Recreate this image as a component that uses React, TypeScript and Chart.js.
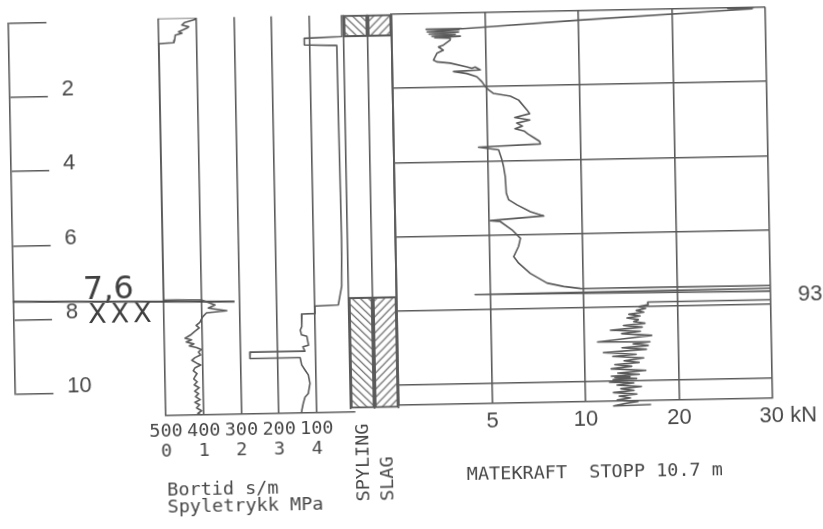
import React, { useEffect, useRef } from 'react';
import { Chart, registerables } from 'chart.js';

Chart.register(...registerables);

// ---------------- data ----------------
// depth ruler
const rulerDepths = [0, 2, 4, 6, 8, 10];
const markDepth = 7.6;
const markLabel = '7,6';
const markCrosses = 'XXX';
const markLineMPa = [-3.99, 1.88];
const markLineDepth = [7.55, 7.66];

// Spyletrykk (MPa) vs depth (m)
const spyleDepth = [0, 0, 0.05, 0.12, 0.19, 0.24, 0.28, 0.37, 0.41, 0.46, 0.6, 0.66, 0.68, 7.58, 7.6, 7.74, 7.82, 7.9, 7.95, 8.04, 8.1, 8.2, 8.28, 8.35, 8.45, 8.52, 8.58, 8.62, 8.67, 8.72, 8.78, 8.83, 8.88, 8.93, 9.0, 9.08, 9.15, 9.22, 9.3, 9.35, 9.42, 9.5, 9.58, 9.65, 9.72, 9.8, 9.88, 9.96, 10.05, 10.12, 10.2, 10.28, 10.35, 10.42, 10.5, 10.58, 10.65, 10.7];
const spyleMPa = [0, 0.97, 0.97, 0.7, 0.62, 0.8, 0.75, 0.53, 0.62, 0.44, 0.42, 0.4, 0, 0, 1.0, 1.36, 1.18, 1.67, 1.13, 1.04, 1.0, 0.95, 0.85, 0.93, 0.8, 0.72, 0.62, 0.55, 0.72, 0.58, 0.78, 0.66, 0.85, 0.97, 0.9, 0.95, 0.8, 0.72, 0.85, 0.95, 0.8, 0.75, 0.85, 0.8, 0.76, 0.85, 0.77, 0.9, 0.78, 0.88, 0.8, 0.92, 0.78, 0.9, 0.82, 0.95, 0.85, 0.95];

// Bortid (s/m) vs depth (m)
const bortidDepth = [0, 0.58, 0.61, 0.79, 0.82, 3.0, 6.0, 7.3, 7.55, 7.8, 7.82, 8.02, 8.03, 8.37, 8.46, 8.59, 8.63, 8.87, 8.91, 9.03, 9.03, 9.2, 9.2, 9.4, 9.53, 9.67, 9.9, 10.17, 10.27, 10.44, 10.62, 10.7];
const bortidSec = [13, 14, 114, 114, 28, 27, 25, 27, 32, 37, 99, 99, 134, 135, 139, 136, 122, 118, 133, 128, 273, 274, 141, 137, 129, 120, 116, 121, 130, 135, 139, 140];

const panelTickMPa = [0, 1, 2, 3, 4];
const bortidTickLabels = ['500', '400', '300', '200', '100'];
const spyleTickLabels = ['0', '1', '2', '3', '4'];
const panelTitle = ['Bortid s/m', 'Spyletrykk MPa'];

// Spyling / slag
const modeCategories = ['SPYLING', 'SLAG'];
const modeIntervals = [[0, 0.6], [7.6, 10.6]];

// Matekraft (kN) vs depth (m)
const mkDepth = [0, 0.02, 0.04, 0.26, 0.4, 0.43, 0.43, 0.46, 0.5, 0.52, 0.56, 0.58, 0.62, 0.63, 0.66, 0.68, 0.73, 0.86, 0.91, 1.0, 1.08, 1.26, 1.31, 1.35, 1.46, 1.5, 1.47, 1.55, 1.58, 1.64, 1.73, 1.87, 2.0, 2.09, 2.19, 2.27, 2.38, 2.65, 2.75, 2.85, 2.92, 3.0, 3.08, 3.15, 3.22, 3.3, 3.4, 3.5, 3.57, 3.63, 3.71, 3.98, 4.16, 4.43, 4.88, 5.06, 5.2, 5.39, 5.51, 5.61, 5.64, 5.87, 6.1, 6.32, 6.59, 6.77, 7.05, 7.32, 7.42, 7.48, 7.5, 7.55, 7.57, 7.59, 7.66, 7.7, 7.8, 7.88, 7.88];
const mkKN = [28.8, 26.0, 28.6, 10.0, 5.0, 3.76, 1.85, 3.6, 1.9, 3.58, 2.0, 3.4, 2.15, 3.67, 2.3, 3.13, 3.12, 2.76, 2.49, 2.75, 2.4, 2.21, 2.39, 3.1, 3.99, 4.26, 4.43, 4.7, 3.27, 3.98, 4.51, 4.78, 4.95, 5.13, 5.39, 6.28, 6.72, 7.16, 7.3, 6.5, 7.3, 6.6, 6.9, 6.5, 7.0, 7.2, 7.5, 7.8, 7.84, 4.53, 5.6, 5.77, 5.85, 5.93, 5.97, 6.09, 6.53, 7.24, 7.95, 5.08, 5.62, 6.24, 6.68, 6.57, 6.3, 6.56, 7.17, 8.06, 8.95, 9.84, 35, 93, 35, 4.2, 35, 93, 40, 35, 16.8];
const mkLowDepth = [7.88, 7.95, 8.0, 8.05, 8.1, 8.15, 8.2, 8.25, 8.3, 8.35, 8.4, 8.45, 8.5, 8.55, 8.62, 8.66, 8.72, 8.78, 8.85, 8.93, 8.95, 9.0, 9.05, 9.1, 9.15, 9.22, 9.28, 9.33, 9.38, 9.45, 9.5, 9.55, 9.6, 9.66, 9.72, 9.78, 9.82, 9.86, 9.88, 9.9, 9.93, 9.95, 9.98, 10.02, 10.05, 10.1, 10.15, 10.2, 10.25, 10.3, 10.35, 10.4, 10.45, 10.5, 10.55, 10.6, 10.66, 10.64];
const mkLowKN = [16.8, 16.9, 15.9, 16.6, 15.6, 16.4, 14.8, 16.0, 14.6, 15.8, 15.3, 16.5, 14.2, 16.2, 12.8, 16.0, 14.0, 17.2, 14.5, 11.4, 17.0, 15.2, 16.8, 14.0, 16.6, 12.0, 15.5, 13.0, 16.3, 14.2, 15.8, 13.2, 15.0, 12.8, 16.5, 13.5, 15.8, 12.8, 14.8, 13.2, 15.5, 13.0, 14.6, 12.6, 15.2, 13.4, 16.0, 13.8, 15.2, 13.0, 15.5, 13.6, 14.8, 13.4, 15.6, 14.2, 13.0, 17.0];
const mkTickKN = [0, 5, 10, 20, 30];
const mkTickLabels = ['', '5', '10', '20', '30'];
const mkUnit = 'kN';
const mkDepthTicks = [0, 2, 4, 6, 8, 10];
const mkTitle = 'MATEKRAFT  STOPP 10.7 m';
const peakKN = 93;
const peakDepth = 7.76;

// ---------------- style ----------------
const INK = '#5a5a5a';
const TEXT = '#474747';
const MONO = "'DejaVu Sans Mono', 'Liberation Mono', monospace";
const NARROW = "'Liberation Sans Narrow', 'Liberation Sans', Arial, sans-serif";
const LW = 1.6;

// matekraft scale: 0-10 kN linear, 10-30 kN at half resolution
const mkT = (v: number) => (v <= 10 ? v : 10 + (v - 10) / 2);

function makeTile(back: boolean, s: number) {
  const c = document.createElement('canvas');
  c.width = s; c.height = s;
  const g = c.getContext('2d') as CanvasRenderingContext2D;
  g.strokeStyle = INK; g.lineWidth = 1.2;
  g.beginPath();
  if (back) {
    g.moveTo(-1, -1); g.lineTo(s + 1, s + 1);
    g.moveTo(-1, s - 1); g.lineTo(1, s + 1);
    g.moveTo(s - 1, -1); g.lineTo(s + 1, 1);
  } else {
    g.moveTo(-1, s + 1); g.lineTo(s + 1, -1);
    g.moveTo(-1, 1); g.lineTo(1, -1);
    g.moveTo(s - 1, s + 1); g.lineTo(s + 1, s - 1);
  }
  g.stroke();
  return c;
}

function unitLabel(num: string, unit: string, font: string) {
  const c = document.createElement('canvas').getContext('2d') as CanvasRenderingContext2D;
  c.font = font;
  const extra = c.measureText(' ' + unit).width;
  const sp = c.measureText(' ').width;
  return ' '.repeat(Math.max(0, Math.round(extra / sp))) + num + ' ' + unit;
}

export default function App() {
  const rulerRef = useRef<HTMLCanvasElement>(null);
  const panelRef = useRef<HTMLCanvasElement>(null);
  const modeRef = useRef<HTMLCanvasElement>(null);
  const mkRef = useRef<HTMLCanvasElement>(null);

  useEffect(() => {
    const charts: Chart[] = [];
    const common: any = {
      animation: false,
      responsive: false,
      events: [],
      plugins: { legend: { display: false }, tooltip: { enabled: false } },
    };

    // ---- depth ruler ----
    const rulerNotes = {
      id: 'rulerNotes',
      afterDraw(chart: any) {
        const y = chart.scales.y.getPixelForValue(markDepth);
        const ctx = chart.ctx;
        ctx.save();
        ctx.fillStyle = '#3f3f3f';
        ctx.font = "32px 'DejaVu Sans', sans-serif";
        ctx.textAlign = 'center';
        ctx.textBaseline = 'alphabetic';
        ctx.fillText(markLabel, 108, y - 5);
        ctx.font = "27px 'DejaVu Sans', sans-serif";
        (ctx as any).letterSpacing = '4px';
        ctx.textBaseline = 'middle';
        ctx.fillText(markCrosses, 121, y + 12);
        ctx.restore();
      },
    };
    charts.push(new Chart(rulerRef.current as HTMLCanvasElement, {
      type: 'line',
      data: { datasets: [] },
      plugins: [rulerNotes],
      options: {
        ...common,
        layout: { padding: { left: 0, right: 52.4, top: 35.5, bottom: 141.9 } },
        scales: {
          x: { display: false },
          y: {
            type: 'linear', position: 'right', min: 0, max: 10, reverse: true,
            afterBuildTicks: (s: any) => { s.ticks = rulerDepths.map((v) => ({ value: v })); },
            afterFit: (s: any) => { s.width = 100; },
            grid: { drawOnChartArea: false, drawTicks: true, tickLength: 38.5, color: INK, lineWidth: LW },
            border: { display: true, color: INK, width: LW },
            ticks: {
              padding: 14, labelOffset: -7, color: TEXT,
              font: { family: NARROW, size: 22 },
              callback: (v: any) => (v === 0 ? '' : String(v)),
            },
          },
        },
      } as any,
    }));

    // ---- bortid / spyletrykk ----
    charts.push(new Chart(panelRef.current as HTMLCanvasElement, {
      type: 'line',
      data: {
        datasets: [
          { data: spyleDepth.map((d, i) => ({ x: spyleMPa[i], y: d })), borderColor: INK, borderWidth: LW, pointRadius: 0, borderJoinStyle: 'round' },
          { data: bortidDepth.map((d, i) => ({ x: (500 - bortidSec[i]) / 100, y: d })), borderColor: INK, borderWidth: LW, pointRadius: 0, borderJoinStyle: 'round' },
          { data: markLineMPa.map((x, i) => ({ x, y: markLineDepth[i] })), borderColor: '#4a4a4a', borderWidth: 2, pointRadius: 0, clip: false },
        ],
      } as any,
      options: {
        ...common,
        layout: { padding: { left: 163, right: 4.5, top: 13.7, bottom: 0 } },
        scales: {
          x: {
            type: 'linear', min: 0, max: 5,
            afterBuildTicks: (s: any) => { s.ticks = panelTickMPa.map((v) => ({ value: v })); },
            afterFit: (s: any) => { s.height = 117.8; },
            grid: { color: INK, lineWidth: LW, drawTicks: false },
            border: { display: true, color: INK, width: LW },
            ticks: {
              padding: 6, color: TEXT, autoSkip: false, maxRotation: 0,
              font: { family: MONO, size: 18.5, lineHeight: '20px' },
              callback: (_v: any, i: number) => [bortidTickLabels[i], spyleTickLabels[i]],
            },
            title: {
              display: true, text: panelTitle, align: 'start', color: TEXT,
              font: { family: MONO, size: 18.5, lineHeight: '17px' },
              padding: { top: 0, bottom: 17.1 },
            },
          },
          y: { type: 'linear', display: false, min: 0, max: 10.7, reverse: true },
        },
      } as any,
    }));

    // ---- spyling / slag ----
    const tileBack = makeTile(true, 8);
    const tileFwd = makeTile(false, 8);
    const hatch = (ctx: any) => {
      const chart = ctx.chart;
      const area = chart.chartArea;
      if (!area) return 'rgba(0,0,0,0)';
      const mid = (area.left + area.right) / 2;
      const p = chart.ctx.createPattern(ctx.dataIndex === 0 ? tileBack : tileFwd, 'repeat');
      p.setTransform(new DOMMatrix([1, 0, 0, 1, mid, area.top]));
      return p;
    };
    const maxLen = Math.max(...modeCategories.map((c) => c.length));
    charts.push(new Chart(modeRef.current as HTMLCanvasElement, {
      type: 'bar',
      data: {
        labels: modeCategories,
        datasets: modeIntervals.map((iv) => ({
          data: modeCategories.map(() => iv),
          backgroundColor: hatch,
          borderColor: INK,
          borderWidth: LW,
          borderSkipped: false,
          grouped: false,
          barPercentage: 1,
          categoryPercentage: 1,
        })),
      } as any,
      options: {
        ...common,
        layout: { padding: { left: 20, right: 45, top: 13.7, bottom: 0 } },
        scales: {
          x: {
            type: 'category',
            afterFit: (s: any) => { s.height = 121.5; },
            grid: { color: INK, lineWidth: LW, drawTicks: false, offset: true },
            border: { display: false },
            ticks: {
              minRotation: 90, maxRotation: 90, padding: 15, color: TEXT, autoSkip: false,
              font: { family: MONO, size: 18.5 },
              callback: (_v: any, i: number) => modeCategories[i].padEnd(maxLen, ' '),
            },
          },
          y: { type: 'linear', display: false, min: 0, max: 10.6, reverse: true },
        },
      } as any,
    }));

    // ---- matekraft ----
    const tickFont = `22px ${NARROW}`;
    const mkLabels = mkTickLabels.map((l, i) => (i === mkTickLabels.length - 1 ? unitLabel(l, mkUnit, tickFont) : l));
    const peakLabel = {
      id: 'peakLabel',
      afterDraw(chart: any) {
        const { ctx, chartArea, scales } = chart;
        ctx.save();
        ctx.font = tickFont;
        ctx.fillStyle = TEXT;
        ctx.textAlign = 'center';
        ctx.textBaseline = 'middle';
        ctx.fillText(String(peakKN), chartArea.right + 39.4, scales.y.getPixelForValue(peakDepth));
        ctx.restore();
      },
    };
    charts.push(new Chart(mkRef.current as HTMLCanvasElement, {
      type: 'line',
      data: {
        datasets: [
          { data: mkDepth.map((d, i) => ({ x: mkT(mkKN[i]), y: d })), borderColor: INK, borderWidth: LW, pointRadius: 0, borderJoinStyle: 'round' },
          { data: mkLowDepth.map((d, i) => ({ x: mkT(mkLowKN[i]), y: d })), borderColor: INK, borderWidth: LW, pointRadius: 0, borderJoinStyle: 'round', clip: false },
        ],
      } as any,
      plugins: [peakLabel],
      options: {
        ...common,
        layout: { padding: { left: 6, right: 53, top: 13.7, bottom: 0 } },
        scales: {
          x: {
            type: 'linear', min: 0, max: mkT(30),
            afterBuildTicks: (s: any) => { s.ticks = mkTickKN.map((v) => ({ value: mkT(v) })); },
            afterFit: (s: any) => { s.height = 124.1; },
            grid: { color: INK, lineWidth: LW, drawTicks: false },
            border: { display: true, color: INK, width: LW },
            ticks: {
              padding: 5.2, color: TEXT, autoSkip: false, maxRotation: 0,
              font: { family: NARROW, size: 22 },
              callback: (_v: any, i: number) => mkLabels[i],
            },
            title: {
              display: true, text: '      ' + mkTitle, align: 'start', color: TEXT,
              font: { family: MONO, size: 18.5, lineHeight: '17px' },
              padding: { top: 0, bottom: 44 },
            },
          },
          y: {
            type: 'linear', position: 'left', min: 0, max: 10.53, reverse: true,
            afterBuildTicks: (s: any) => { s.ticks = mkDepthTicks.map((v) => ({ value: v })); },
            afterFit: (s: any) => { s.width = 0; },
            grid: { color: INK, lineWidth: LW, drawTicks: false },
            border: { display: true, color: INK, width: LW },
            ticks: { display: false },
          },
        },
      } as any,
    }));

    return () => { charts.forEach((c) => c.destroy()); };
  }, []);

  const abs = (left: number, top: number): React.CSSProperties => ({ position: 'absolute', left, top });

  return (
    <div style={{ position: 'absolute', left: 0, top: 0, width: 823, height: 529, overflow: 'hidden', background: '#fff' }}>
      <div style={{ position: 'absolute', left: 0, top: 0, width: 823, height: 529, transform: 'rotate(-1.08deg)', transformOrigin: '411.5px 264.5px' }}>
        <canvas ref={rulerRef} width={165} height={549} style={abs(0, -20)} />
        <canvas ref={panelRef} width={356} height={529} style={abs(0, 0)} />
        <canvas ref={modeRef} width={113} height={529} style={abs(328, 0)} />
        <canvas ref={mkRef} width={433} height={529} style={abs(390, 0)} />
      </div>
    </div>
  );
}
